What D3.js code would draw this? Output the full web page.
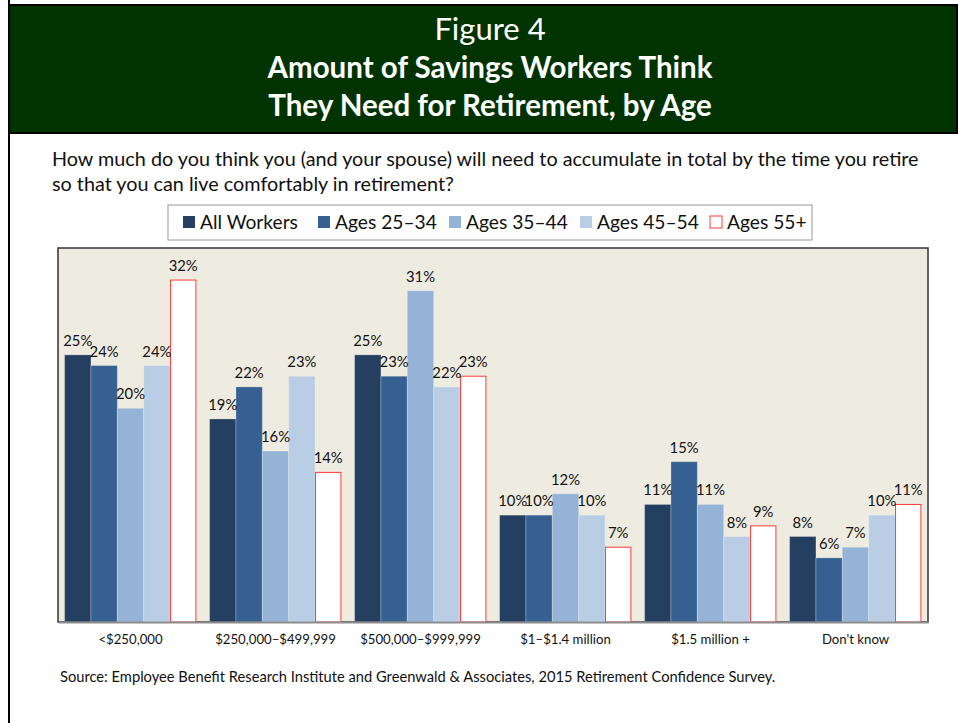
<!DOCTYPE html>
<html>
<head>
<meta charset="utf-8">
<script src="https://cdn.jsdelivr.net/npm/d3@7"></script>
<style>
  html, body { margin: 0; padding: 0; background: #fff; }
  svg { display: block; font-family: Lato, "Open Sans", sans-serif; }
</style>
</head>
<body>
<div id="chart"></div>
<script>
const categories = ["<$250,000", "$250,000–$499,999", "$500,000–$999,999", "$1–$1.4 million", "$1.5 million +", "Don't know"];
const seriesNames = ["All Workers", "Ages 25–34", "Ages 35–44", "Ages 45–54", "Ages 55+"];
const allWorkers = [25, 19, 25, 10, 11, 8];
const ages2534 = [24, 22, 23, 10, 15, 6];
const ages3544 = [20, 16, 31, 12, 11, 7];
const ages4554 = [24, 23, 22, 10, 8, 10];
const ages55 = [32, 14, 23, 7, 9, 11];
const seriesValues = [allWorkers, ages2534, ages3544, ages4554, ages55];

const fills = ["#253f60", "#366092", "#95b3d7", "#b9cde5", "#ffffff"];
const strokes = ["none", "none", "none", "none", "#ff3b3b"];

const width = 958, height = 723;
const plot = { left: 58, right: 928, top: 248, bottom: 622 };

const svg = d3.select("#chart").append("svg")
  .attr("width", width)
  .attr("height", height);

// outer frame line on the left
svg.append("line")
  .attr("x1", 9).attr("x2", 9).attr("y1", 0).attr("y2", height)
  .attr("stroke", "#000").attr("stroke-width", 2);

// header
svg.append("rect")
  .attr("x", 9).attr("y", 5).attr("width", 948).attr("height", 128)
  .attr("fill", "#013300").attr("stroke", "#000").attr("stroke-width", 2);

const titleLines = [
  { text: "Figure 4", y: 40, weight: 400, size: 31 },
  { text: "Amount of Savings Workers Think", y: 78, weight: 700, size: 29.5 },
  { text: "They Need for Retirement, by Age", y: 116, weight: 700, size: 29.5 }
];
svg.selectAll(".title").data(titleLines).join("text")
  .attr("class", "title")
  .attr("x", 490).attr("y", d => d.y)
  .attr("text-anchor", "middle")
  .attr("fill", "#fff")
  .attr("font-size", d => d.size)
  .attr("font-weight", d => d.weight)
  .text(d => d.text);

// question
const question = [
  "How much do you think you (and your spouse) will need to accumulate in total by the time you retire",
  "so that you can live comfortably in retirement?"
];
svg.selectAll(".question").data(question).join("text")
  .attr("class", "question")
  .attr("x", 52).attr("y", (d, i) => 166 + i * 25)
  .attr("font-size", 19.8)
  .attr("fill", "#111")
  .text(d => d);

// legend
const legend = svg.append("g");
legend.append("rect")
  .attr("x", 168).attr("y", 205).attr("width", 644).attr("height", 35)
  .attr("fill", "#fff").attr("stroke", "#999");
const legendX = [183, 318, 449, 580, 710];
const items = legend.selectAll(".item").data(seriesNames).join("g")
  .attr("class", "item")
  .attr("transform", (d, i) => `translate(${legendX[i]},222)`);
items.append("rect")
  .attr("x", 0).attr("y", -6).attr("width", 12).attr("height", 12)
  .attr("fill", (d, i) => fills[i])
  .attr("stroke", (d, i) => i === 4 ? strokes[i] : "none");
items.append("text")
  .attr("x", 17).attr("y", 7)
  .attr("font-size", 19.2)
  .attr("fill", "#111")
  .text(d => d);

// plot area
svg.append("rect")
  .attr("x", plot.left).attr("y", plot.top)
  .attr("width", plot.right - plot.left).attr("height", plot.bottom - plot.top)
  .attr("fill", "#eeebe0").attr("stroke", "#333").attr("stroke-width", 1.5);

const x0 = d3.scaleBand().domain(categories).range([plot.left, plot.right]).padding(0);
const x1 = d3.scaleBand().domain(seriesNames).range([0, x0.bandwidth()]).paddingInner(0).paddingOuter(0.25);
const y = d3.scaleLinear().domain([0, 35]).range([plot.bottom, plot.top]);

const rows = [];
categories.forEach((c, ci) => {
  seriesNames.forEach((s, si) => {
    rows.push({ cat: c, series: s, si, value: seriesValues[si][ci] });
  });
});

const bars = svg.append("g");
bars.selectAll("rect").data(rows).join("rect")
  .attr("x", d => x0(d.cat) + x1(d.series) + (d.si === 4 ? 0.5 : 0))
  .attr("y", d => y(d.value))
  .attr("width", d => x1.bandwidth() - (d.si === 4 ? 1 : 0))
  .attr("height", d => y(0) - y(d.value))
  .attr("fill", d => fills[d.si])
  .attr("stroke", d => d.si === 4 ? strokes[d.si] : "rgba(255,255,255,0.25)")
  .attr("stroke-width", 1);

bars.selectAll("text").data(rows).join("text")
  .attr("x", d => x0(d.cat) + x1(d.series) + x1.bandwidth() / 2)
  .attr("y", d => y(d.value) - 9)
  .attr("text-anchor", "middle")
  .attr("font-size", 14.8)
  .attr("fill", "#111")
  .text(d => d.value + "%");

// x axis
const xAxis = svg.append("g")
  .attr("transform", `translate(0,${plot.bottom})`)
  .call(d3.axisBottom(x0).tickSize(0).tickPadding(13));
xAxis.select(".domain").attr("stroke", "#8c8c8c").attr("stroke-width", 2);
xAxis.selectAll("text")
  .attr("font-size", 13.2)
  .attr("font-family", "Lato, 'Open Sans', sans-serif")
  .attr("fill", "#111");

// source
svg.append("text")
  .attr("x", 60).attr("y", 682)
  .attr("font-size", 14.7)
  .attr("fill", "#111")
  .text("Source:  Employee Benefit Research Institute and Greenwald & Associates, 2015 Retirement Confidence Survey.");
</script>
</body>
</html>
